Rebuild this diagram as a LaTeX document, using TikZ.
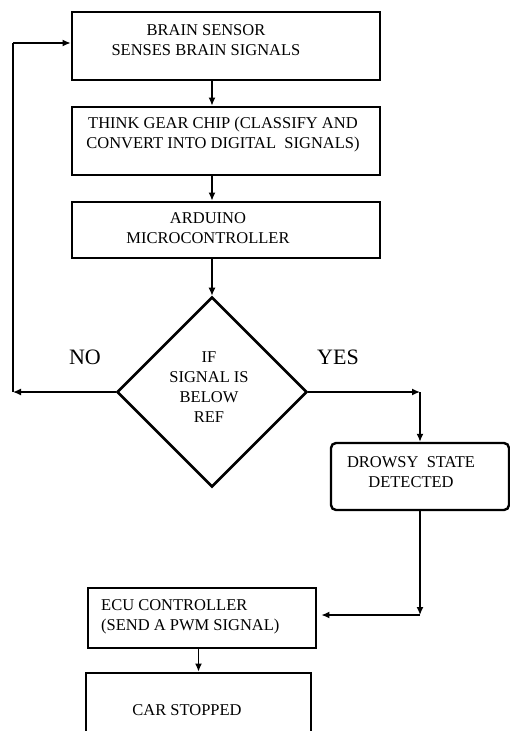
\documentclass[tikz,border=0pt]{standalone}
\usepackage{fontspec}
\setmainfont{Liberation Serif}
\usetikzlibrary{shapes.geometric,arrows.meta}

\tikzset{
  stepbox/.style={draw, line width=2.8pt, minimum width=#1, inner sep=0pt},
  roundbox/.style={draw, line width=2.4pt, rounded corners=5pt, inner sep=0pt},
  decision/.style={draw, diamond, line width=2.6pt, minimum width=190pt, minimum height=190pt, inner sep=0pt},
  boxtext/.style={align=center, inner sep=0pt, font=\fontsize{16.5}{20}\selectfont},
  branch/.style={inner sep=0pt, font=\fontsize{22}{24}\selectfont},
  flow/.style={line width=1.4pt},
  arr/.style={-{Latex[length=8pt,width=7pt]}}
}

\begin{document}
\begin{tikzpicture}[x=1pt,y=-1pt]
\useasboundingbox (0,0) rectangle (510,731);

% boxes
\node[stepbox=308pt, minimum height=68pt](brain) at (226,46){};
\node[stepbox=308pt, minimum height=68pt](think) at (226,141){};
\node[stepbox=308pt, minimum height=56pt](arduino) at (226,230){};
\node[decision](dec) at (212,392){};
\node[roundbox, minimum width=178pt, minimum height=67pt](drowsy) at (420,476.5){};
\node[stepbox=228pt, minimum height=60pt](ecu) at (202,618){};
\node[stepbox=225pt, minimum height=90pt](car) at (198.5,718){};

% texts
\node[boxtext](braintxt) at (206,40){BRAIN SENSOR\\SENSES BRAIN SIGNALS};
\node[boxtext](thinktxt) at (223,135){THINK GEAR CHIP (CLASSIFY AND\\CONVERT INTO DIGITAL\ \ SIGNALS)};
\node[boxtext](arduinotxt) at (208,228){ARDUINO\\MICROCONTROLLER};
\node[boxtext](dectxt) at (209,387){IF\\SIGNAL IS\\BELOW\\REF};
\node[boxtext](drowsytxt) at (411,472){DROWSY\ \ STATE\\DETECTED};
\node[boxtext, align=left, anchor=west](ecutxt) at (101,617){ECU CONTROLLER\\(SEND A PWM SIGNAL)};
\node[boxtext](cartxt) at (187,710){CAR STOPPED};
\node[branch](no) at (85,357){NO};
\node[branch](yes) at (338,357){YES};

% corners
\coordinate(nocorner) at (13,392);
\coordinate(backtop) at (13,43);
\coordinate(yescorner) at (420,392);
\coordinate(ecucorner) at (420,615);

\path[flow]
(brain.south -| dec) edge[arr]node{} (think.north -| dec)
(think.south -| dec) edge[arr]node{} (arduino.north -| dec)
(arduino.south -| dec) edge[arr]node{} (dec.north)
(dec.west) edge[arr]node{} (nocorner)
(nocorner) edge[] (backtop)
(backtop) edge[arr]node{} (brain.west |- backtop)
(dec.east) edge[arr]node{} (yescorner)
(yescorner) edge[arr]node{} (drowsy.north)
(drowsy.south) edge[arr]node{} (ecucorner)
(ecucorner) edge[arr, shorten >=4pt]node{} (ecu.east |- ecucorner)
(ecu.south -| car) edge[arr]node{} (car.north);
\end{tikzpicture}
\end{document}
